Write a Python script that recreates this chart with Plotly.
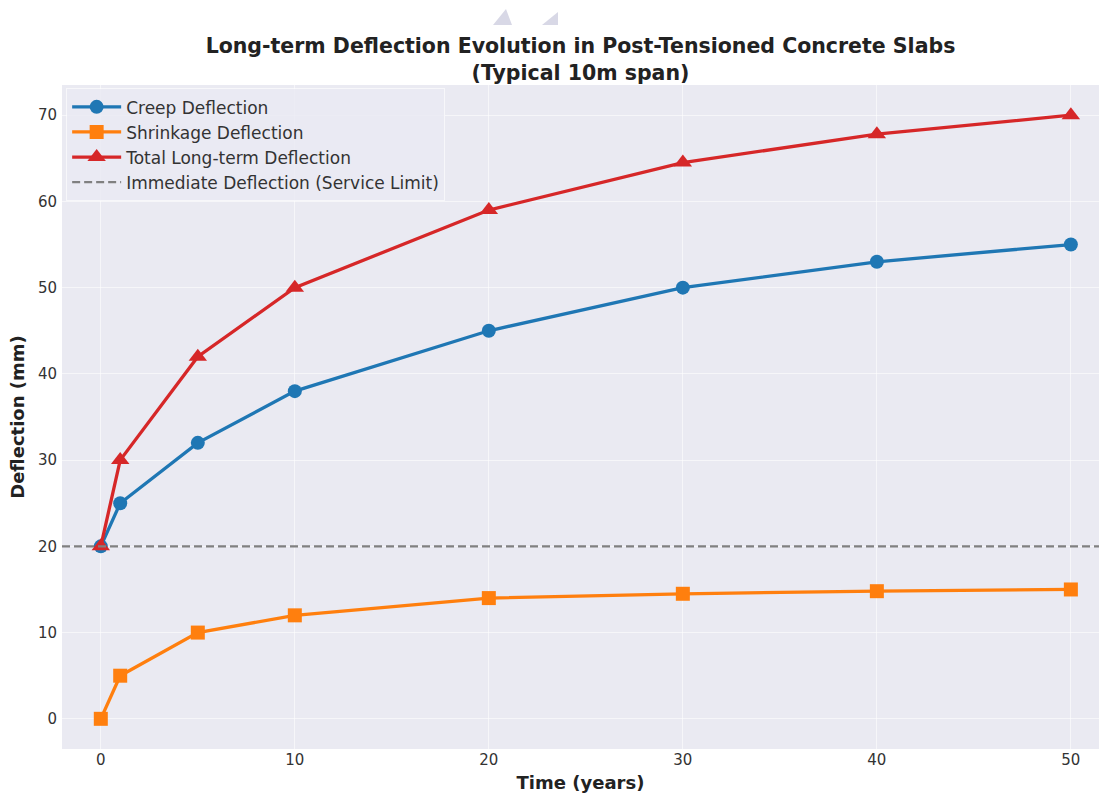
import plotly.graph_objects as go

years = [0, 1, 5, 10, 20, 30, 40, 50]
creep = [20, 25, 32, 38, 45, 50, 53, 55]
shrinkage = [0, 5, 10, 12, 14, 14.5, 14.8, 15]
total = [20, 30, 42, 50, 59, 64.5, 67.8, 70]
service_limit = 20

FONT = "DejaVu Sans"
DASH = "8px,4px"
W, H = 1099, 795
ML, MR, MT, MB = 62, 0, 85, 46

fig = go.Figure()
fig.add_trace(go.Scatter(x=years, y=creep, mode="lines+markers", name="Creep Deflection",
                         line=dict(color="#1f77b4", width=3.3),
                         marker=dict(symbol="circle", size=14, color="#1f77b4")))
fig.add_trace(go.Scatter(x=years, y=shrinkage, mode="lines+markers", name="Shrinkage Deflection",
                         line=dict(color="#ff7f0e", width=3.3),
                         marker=dict(symbol="square", size=14, color="#ff7f0e")))
fig.add_trace(go.Scatter(x=years, y=total, mode="lines+markers", name="Total Long-term Deflection",
                         line=dict(color="#d62728", width=3.3),
                         marker=dict(symbol="triangle-up", size=16, color="#d62728")))
fig.add_trace(go.Scatter(x=[None], y=[None], mode="lines", name="Immediate Deflection (Service Limit)",
                         line=dict(color="#808080", width=2.3, dash=DASH)))
fig.add_hline(y=service_limit, line=dict(color="#808080", width=2.3, dash=DASH))


# small decorative fragments at the top edge of the image
def px_path(points):
    pw, ph = W - ML - MR, H - MT - MB
    parts = []
    for i, (px, py) in enumerate(points):
        xp = (px - ML) / pw
        yp = (H - MB - py) / ph
        parts.append(("M" if i == 0 else "L") + f"{xp:.5f},{yp:.5f}")
    return " ".join(parts) + " Z"


for pts in ([(493, 25), (506, 9), (512, 25)], [(542, 25), (558, 12), (558, 25)]):
    fig.add_shape(type="path", xref="paper", yref="paper", path=px_path(pts),
                  fillcolor="#d8d8e6", line=dict(width=0), layer="above")

fig.update_layout(
    width=W, height=H,
    margin=dict(l=ML, r=MR, t=MT, b=MB),
    paper_bgcolor="white", plot_bgcolor="#eaeaf2",
    font=dict(family=FONT, size=15, color="#333333"),
    title=dict(text="<b>Long-term Deflection Evolution in Post-Tensioned Concrete Slabs<br>(Typical 10m span)</b>",
               x=0.5, xref="paper", xanchor="center", y=0.933, yanchor="top",
               font=dict(family=FONT, size=20.5, color="#222222")),
    showlegend=True,
    legend=dict(x=0.004, y=0.995, xanchor="left", yanchor="top",
                bgcolor="rgba(234,234,242,0.8)", bordercolor="rgba(255,255,255,0.6)", borderwidth=1,
                font=dict(family=FONT, size=17, color="#333333"), itemwidth=49,
                tracegroupgap=0),
    xaxis=dict(range=[-2.0, 51.45], tickvals=[0, 10, 20, 30, 40, 50], showgrid=True,
               gridcolor="rgba(255,255,255,0.55)", gridwidth=1, zeroline=False, ticks="", showline=False,
               automargin=False,
               title=dict(text="<b>Time (years)</b>", font=dict(family=FONT, size=18, color="#222222"), standoff=8)),
    yaxis=dict(range=[-3.5, 73.5], tickvals=[0, 10, 20, 30, 40, 50, 60, 70], showgrid=True,
               gridcolor="rgba(255,255,255,0.55)", gridwidth=1, zeroline=False, ticks="", showline=False,
               automargin=False, ticklabelstandoff=4,
               title=dict(text="<b>Deflection (mm)</b>", font=dict(family=FONT, size=18, color="#222222"), standoff=8)),
)
fig.write_html("out.html", config={"displayModeBar": False},
               post_script="document.body.style.margin='0';document.body.style.overflow='hidden';")
